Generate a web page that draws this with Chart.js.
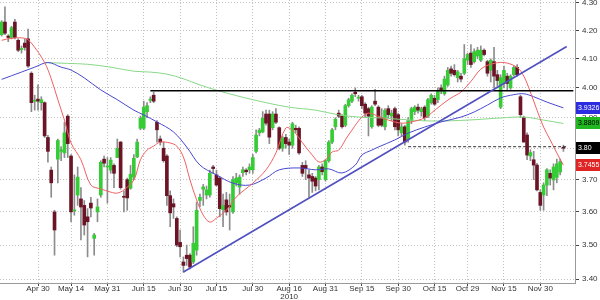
<!DOCTYPE html>
<html lang="en">
<head>
<meta charset="UTF-8">
<title>Yield candles 2010</title>
<script src="https://cdn.jsdelivr.net/npm/chart.js@4.4.0/dist/chart.umd.js"></script>
<style>
  html, body { margin: 0; padding: 0; background: #fff; }
  #wrap { width: 600px; height: 300px; }
</style>
</head>
<body>
<div id="wrap"><canvas id="chart" width="600" height="300"></canvas></div>
<script>
// daily candles, one per weekday starting Thu 15 Apr 2010
const opens = [4.185,4.23,4.18,4.175,4.23,4.165,4.132,4.155,4.17,4.05,3.955,3.962,3.95,3.95,3.835,3.73,3.60,3.765,3.79,3.785,
  3.905,3.775,3.603,3.652,3.64,3.62,3.585,3.627,3.52,3.60,3.652,3.765,3.74,3.73,3.745,3.77,3.82,3.647,3.70,3.673,
  3.708,3.772,3.865,3.865,3.92,3.958,3.975,3.885,3.83,3.80,3.775,3.65,3.625,3.58,3.508,3.45,3.47,3.47,3.45,3.485,
  3.635,3.67,3.652,3.652,3.74,3.715,3.705,3.607,3.637,3.62,3.60,3.69,3.677,3.722,3.73,3.731,3.731,3.79,3.85,3.853,
  3.912,3.912,3.867,3.912,3.867,3.80,3.835,3.82,3.81,3.865,3.865,3.745,3.745,3.715,3.71,3.705,3.70,3.74,3.70,3.76,
  3.82,3.87,3.915,3.905,3.875,3.94,3.955,3.985,3.965,3.97,3.945,3.93,3.87,3.955,3.935,3.90,3.87,3.93,3.905,3.93,
  3.91,3.85,3.87,3.83,3.89,3.92,3.935,3.92,3.935,3.905,3.95,3.965,3.96,4.00,3.98,4.01,4.065,4.06,4.035,4.04,
  4.05,4.095,4.12,4.09,4.11,4.095,4.13,4.09,4.06,4.09,4.045,3.935,4.015,4.04,4.00,4.045,4.07,3.97,3.90,3.843,
  3.775,3.763,3.746,3.66,3.652,3.683,3.72,3.699,3.707,3.724,3.802];
const highs = [4.235,4.285,4.185,4.215,4.24,4.17,4.145,4.17,4.205,4.055,3.975,4.01,3.97,3.953,3.842,3.74,3.605,3.83,3.805,3.885,
  3.91,3.78,3.715,3.74,3.675,3.635,3.61,3.645,3.535,3.64,3.76,3.775,3.77,3.77,3.75,3.83,3.822,3.665,3.705,3.745,
  3.78,3.83,3.905,3.955,3.95,3.97,3.985,3.89,3.84,3.82,3.78,3.665,3.64,3.585,3.545,3.465,3.50,3.475,3.555,3.63,
  3.655,3.685,3.68,3.73,3.745,3.73,3.71,3.655,3.66,3.655,3.71,3.72,3.715,3.74,3.735,3.75,3.78,3.86,3.865,3.92,
  3.925,3.925,3.92,3.93,3.87,3.84,3.845,3.83,3.885,3.875,3.87,3.755,3.76,3.73,3.72,3.71,3.745,3.75,3.765,3.825,
  3.865,3.90,3.925,3.91,3.945,3.965,3.98,4.00,3.975,3.975,3.95,3.935,3.94,3.995,3.94,3.93,3.93,3.94,3.925,3.935,
  3.915,3.88,3.875,3.90,3.935,3.94,3.945,3.935,3.94,3.965,3.98,3.975,4.00,4.01,4.04,4.07,4.075,4.08,4.06,4.05,
  4.15,4.12,4.15,4.135,4.14,4.145,4.135,4.095,4.10,4.14,4.06,4.045,4.075,4.05,4.045,4.075,4.08,3.975,3.905,3.85,
  3.795,3.79,3.752,3.668,3.69,3.735,3.731,3.75,3.765,3.765,3.81];
const lows = [4.18,4.185,4.16,4.17,4.17,4.125,4.12,4.13,4.07,3.92,3.925,3.925,3.925,3.835,3.755,3.645,3.47,3.69,3.76,3.77,
  3.77,3.57,3.59,3.62,3.515,3.53,3.465,3.585,3.47,3.57,3.645,3.74,3.627,3.72,3.675,3.77,3.67,3.60,3.605,3.67,
  3.70,3.77,3.86,3.86,3.90,3.95,3.95,3.82,3.81,3.755,3.62,3.555,3.58,3.495,3.465,3.42,3.44,3.43,3.445,3.47,
  3.615,3.62,3.64,3.645,3.72,3.68,3.585,3.555,3.59,3.545,3.595,3.68,3.655,3.71,3.715,3.72,3.72,3.785,3.84,3.85,
  3.875,3.815,3.86,3.88,3.795,3.79,3.80,3.78,3.80,3.85,3.78,3.71,3.70,3.645,3.66,3.665,3.668,3.715,3.695,3.755,
  3.815,3.86,3.90,3.865,3.87,3.935,3.95,3.97,3.955,3.93,3.90,3.84,3.865,3.94,3.87,3.87,3.86,3.90,3.89,3.86,
  3.84,3.84,3.81,3.82,3.88,3.91,3.915,3.905,3.89,3.90,3.945,3.94,3.95,3.98,3.975,4.005,4.04,4.04,4.02,4.02,
  4.045,4.08,4.07,4.085,4.10,4.09,4.11,4.04,4.02,4.00,4.005,3.93,4.00,3.99,3.995,4.04,4.04,3.90,3.82,3.763,
  3.76,3.70,3.665,3.605,3.605,3.65,3.683,3.668,3.69,3.715,3.79];
const closes = [4.23,4.19,4.175,4.21,4.175,4.13,4.136,4.14,4.075,3.95,3.958,3.955,3.96,3.84,3.79,3.69,3.545,3.825,3.795,3.85,
  3.815,3.60,3.605,3.708,3.615,3.56,3.57,3.612,3.53,3.615,3.755,3.752,3.742,3.762,3.72,3.80,3.675,3.645,3.643,3.717,
  3.768,3.82,3.898,3.935,3.94,3.962,3.955,3.86,3.82,3.76,3.65,3.597,3.615,3.50,3.495,3.44,3.46,3.435,3.505,3.605,
  3.645,3.677,3.668,3.72,3.735,3.683,3.61,3.62,3.60,3.615,3.70,3.705,3.708,3.731,3.725,3.74,3.77,3.843,3.859,3.898,
  3.882,3.836,3.912,3.885,3.80,3.834,3.815,3.81,3.88,3.86,3.785,3.72,3.735,3.705,3.695,3.68,3.74,3.725,3.76,3.82,
  3.86,3.895,3.905,3.87,3.94,3.96,3.975,3.98,3.968,3.94,3.915,3.905,3.935,3.945,3.875,3.875,3.925,3.91,3.915,3.87,
  3.86,3.87,3.82,3.89,3.93,3.935,3.925,3.93,3.90,3.96,3.975,3.945,3.99,3.99,4.03,4.06,4.05,4.045,4.055,4.03,
  4.10,4.115,4.08,4.125,4.13,4.13,4.115,4.05,4.095,4.04,4.025,4.035,4.06,4.015,4.04,4.07,4.045,3.91,3.82,3.778,
  3.786,3.746,3.668,3.62,3.683,3.731,3.705,3.74,3.75,3.757,3.80];

// moving averages at a few days (index, value)
const redIdx = [0,3,7,9,13,15,17,19,21,24,27,30,33,35,37,40,42,44,46,48,51,53,55,57,59,61,63,65,68,71,76,80,83,86,88,90,92,94,96,98,100,102,104,106,109,111,113,117,121,124,128,130,133,136,139,142,145,148,152,156,158,160,162,164,166,168,170];
const redVal = [4.165,4.172,4.172,4.155,4.087,4.031,3.96,3.892,3.817,3.763,3.683,3.671,3.661,3.658,3.668,3.699,3.763,3.794,3.807,3.82,3.817,3.807,3.772,3.699,3.637,3.59,3.569,3.581,3.605,3.646,3.689,3.731,3.785,3.866,3.859,3.833,3.804,3.778,3.756,3.763,3.788,3.794,3.827,3.859,3.902,3.915,3.909,3.892,3.882,3.886,3.899,3.915,3.942,3.966,3.986,4.022,4.064,4.081,4.087,4.07,4.04,3.986,3.925,3.869,3.827,3.785,3.7455];
const blueIdx = [0,6,10,14,18,21,25,30,35,40,43,47,52,56,60,65,70,75,80,84,90,95,99,103,107,109,112,114,119,123,128,133,139,143,147,151,155,158,161,165,170];
const blueVal = [4.029,4.054,4.071,4.087,4.071,4.061,4.034,3.993,3.96,3.925,3.909,3.886,3.853,3.804,3.746,3.715,3.689,3.683,3.705,3.731,3.737,3.731,3.734,3.721,3.746,3.778,3.794,3.804,3.827,3.849,3.869,3.886,3.902,3.919,3.942,3.966,3.977,3.98,3.97,3.952,3.9326];
const greenIdx = [13,20,26,33,40,45,50,55,60,66,76,87,95,102,108,115,120,130,141,151,158,164,170];
const greenVal = [4.087,4.084,4.081,4.071,4.057,4.054,4.047,4.031,4.01,3.989,3.96,3.935,3.925,3.909,3.902,3.899,3.895,3.889,3.892,3.899,3.902,3.892,3.8809];

// drawn lines
const trendIdx = [55, 171];
const trendVal = [3.421, 4.143];
const levelIdx = [45, 173];
const levelVal = [3.99, 3.99];
const lastIdx = [123, 171];
const lastVal = [3.805, 3.805];

// axes
const dayCount = 174;
const tickIndex = [11, 21, 32, 43, 54, 65, 76, 87, 98, 109, 120, 131, 141, 152, 163];
const tickText = ['Apr 30','May 14','May 31','Jun 15','Jun 30','Jul 15','Jul 30','Aug 16','Aug 31','Sep 15','Sep 30','Oct 15','Oct 29','Nov 15','Nov 30'];
const yearIndex = 87;
const yearText = '2010';
const yTicks = [3.4, 3.5, 3.6, 3.7, 3.8, 3.9, 4.0, 4.1, 4.2, 4.3];

// last value tags on the right axis
const tagVal = [3.9326, 3.8809, 3.80, 3.7455];
const tagText = ['3.9326', '3.8809', '3.80', '3.7455'];
const tagColor = ['#2c2ce0', '#22b822', '#000000', '#e02424'];
const tagInk = ['#ffffff', '#000000', '#ffffff', '#ffffff'];

const days = [];
const d = new Date(2010, 3, 15);
while (days.length < dayCount) {
    if (d.getDay() !== 0 && d.getDay() !== 6) days.push((d.getMonth() + 1) + '/' + d.getDate());
    d.setDate(d.getDate() + 1);
}

function sparse(idx, vals) {
    const arr = new Array(dayCount).fill(null);
    idx.forEach((k, j) => { arr[k] = vals[j]; });
    return arr;
}

const upCol = '#35cc35';
const downCol = '#6a1426';
const bodyColors = opens.map((o, i) => closes[i] >= o ? upCol : downCol);

const lineBase = { type: 'line', pointRadius: 0, borderWidth: 1, spanGaps: true, tension: 0.35, fill: false };
const fontFamily = '"Liberation Sans", Arial, sans-serif';

// x tick labels, the year line and the value tags
const extrasPlugin = {
    id: 'extras',
    afterDraw(chart) {
        const ctx = chart.ctx;
        const y = chart.scales.y;
        const x = chart.scales.x;
        const base = y.bottom;
        ctx.save();
        ctx.font = '8px ' + fontFamily;
        ctx.fillStyle = '#333';
        ctx.textAlign = 'center';
        ctx.textBaseline = 'middle';
        tickIndex.forEach((k, j) => {
            ctx.fillText(tickText[j], x.getPixelForValue(k), base + 5.5);
        });
        ctx.fillText(yearText, x.getPixelForValue(yearIndex), base + 13.5);

        ctx.font = '7px ' + fontFamily;
        ctx.textAlign = 'left';
        tagVal.forEach((v, i) => {
            const py = Math.round(y.getPixelForValue(v));
            ctx.fillStyle = tagColor[i];
            ctx.fillRect(576, py - 6, 24, 12);
            ctx.fillStyle = tagInk[i];
            ctx.fillText(tagText[i], 578, py + 0.5);
        });
        ctx.restore();
    }
};

const labelFont = { family: fontFamily, size: 8 };

new Chart(document.getElementById('chart'), {
    type: 'bar',
    data: {
        labels: days,
        datasets: [
            Object.assign({}, lineBase, { label: 'red', data: sparse(redIdx, redVal), borderColor: '#f06060', order: 1 }),
            Object.assign({}, lineBase, { label: 'blue', data: sparse(blueIdx, blueVal), borderColor: '#4848d0', order: 1 }),
            Object.assign({}, lineBase, { label: 'green', data: sparse(greenIdx, greenVal), borderColor: '#88d888', order: 1 }),
            Object.assign({}, lineBase, { label: 'trend', data: sparse(trendIdx, trendVal), borderColor: '#5050c0', borderWidth: 1.6, tension: 0, order: 0 }),
            Object.assign({}, lineBase, { label: 'level', data: sparse(levelIdx, levelVal), borderColor: '#000000', borderWidth: 1.6, tension: 0, order: 0 }),
            Object.assign({}, lineBase, { label: 'last', data: sparse(lastIdx, lastVal), borderColor: '#333333', borderDash: [3, 2], tension: 0, order: 0 }),
            {
                label: 'wick', data: lows.map((l, i) => [l, highs[i]]),
                backgroundColor: '#8c8c8c', barThickness: 1, grouped: false, order: 3
            },
            {
                label: 'body', data: opens.map((o, i) => [o, closes[i]]),
                backgroundColor: bodyColors, borderWidth: 0, barThickness: 3,
                minBarLength: 1, grouped: false, order: 2
            }
        ]
    },
    options: {
        responsive: false,
        animation: false,
        devicePixelRatio: 1,
        layout: { padding: 0 },
        plugins: { legend: { display: false }, tooltip: { enabled: false } },
        scales: {
            x: {
                type: 'category',
                offset: true,
                afterBuildTicks: s => { s.ticks = tickIndex.map(i => ({ value: i })); },
                afterFit: s => { s.height = 17; s.paddingLeft = 0; s.paddingRight = 0; },
                ticks: { display: false, autoSkip: false, maxRotation: 0 },
                grid: { offset: false, color: '#c2c2c2', tickLength: 3, tickColor: '#444' },
                border: { display: true, color: '#9a9a9a', dash: [1, 2] }
            },
            y: {
                type: 'logarithmic',
                position: 'right',
                min: 3.389,
                max: 4.31,
                afterBuildTicks: s => { s.ticks = yTicks.map(v => ({ value: v })); },
                afterFit: s => { s.width = 25; s.paddingTop = 0; s.paddingBottom = 0; },
                ticks: { padding: 3, color: '#333', font: labelFont, callback: v => Number(v).toFixed(2) },
                grid: { color: '#c2c2c2', tickLength: 4, tickColor: '#444' },
                border: { display: true, color: '#9a9a9a', dash: [1, 2] }
            }
        }
    },
    plugins: [extrasPlugin]
});
</script>
</body>
</html>
